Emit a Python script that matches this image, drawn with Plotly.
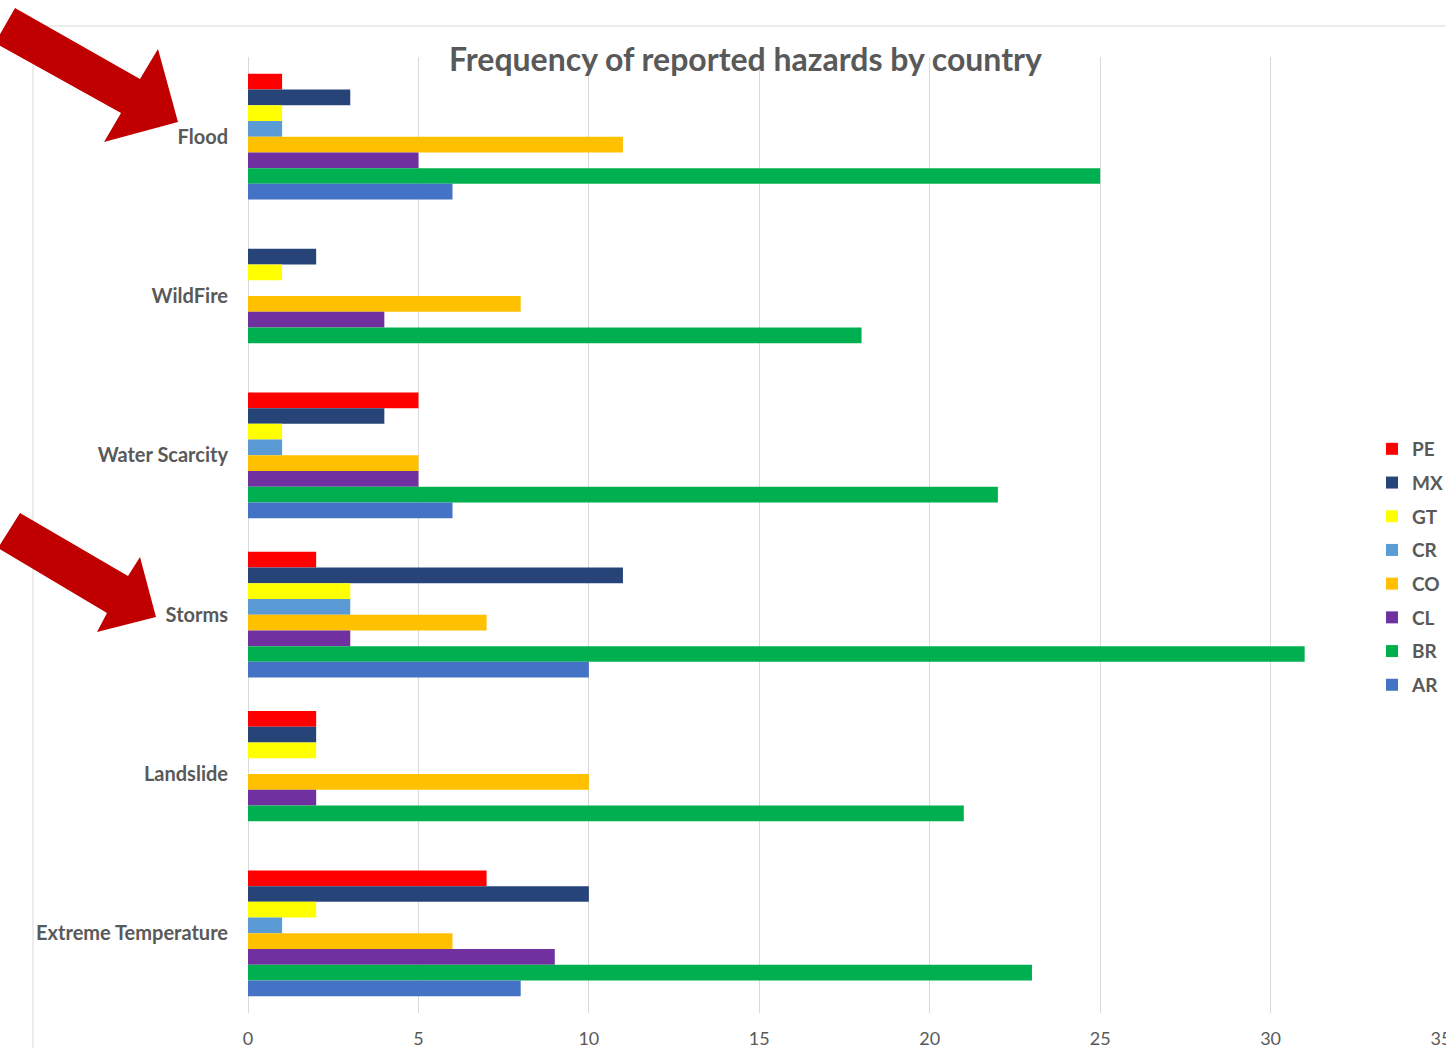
import plotly.graph_objects as go

hazards = ["Flood", "WildFire", "Water Scarcity", "Storms", "Landslide", "Extreme Temperature"]
countries = ["PE", "MX", "GT", "CR", "CO", "CL", "BR", "AR"]
PE = [1, 0, 5, 2, 2, 7]
MX = [3, 2, 4, 11, 2, 10]
GT = [1, 1, 1, 3, 2, 2]
CR = [1, 0, 1, 3, 0, 1]
CO = [11, 8, 5, 7, 10, 6]
CL = [5, 4, 5, 3, 2, 9]
BR = [25, 18, 22, 31, 21, 23]
AR = [6, 0, 6, 10, 0, 8]
series = [PE, MX, GT, CR, CO, CL, BR, AR]
colors = ["#FF0000", "#264478", "#FFFF00", "#5B9BD5", "#FFC000", "#7030A0", "#00B050", "#4472C4"]
x_ticks = [0, 5, 10, 15, 20, 25, 30, 35]

W, H = 1446, 1048
L, R, T, B = 248, 5, 57, 35
PW, PH = W - L - R, H - T - B


def px(x):
    return (x - L) / PW


def py(y):
    return 1 - (y - T) / PH


def path(points):
    s = "M " + " L ".join(f"{px(a):.5f},{py(b):.5f}" for a, b in points) + " Z"
    return s


fig = go.Figure()
for i, (name, vals) in enumerate(zip(countries, series)):
    fig.add_trace(go.Bar(
        y=hazards, x=vals, name=f"<b>{name}</b>", orientation="h",
        marker=dict(color=colors[i], line=dict(width=0)),
        legendgroup=name,
    ))

font_family = "Lato, 'Open Sans', sans-serif"
gray = "#595959"

arrow1 = [(15, 8), (140, 79), (158, 49), (178, 122), (104, 142), (121, 113), (-5, 43)]
arrow2 = [(20, 513), (128, 576), (140, 557), (156, 617), (97, 632), (107, 613), (-2, 548)]

shapes = [
    dict(type="line", xref="paper", yref="paper", x0=px(33), x1=px(33), y0=py(26), y1=py(1048),
         line=dict(color="#D9D9D9", width=1), layer="below"),
    dict(type="line", xref="paper", yref="paper", x0=px(33), x1=px(1446), y0=py(26), y1=py(26),
         line=dict(color="#D9D9D9", width=1), layer="below"),
    dict(type="path", xref="paper", yref="paper", path=path(arrow1),
         fillcolor="#C00000", line=dict(width=0)),
    dict(type="path", xref="paper", yref="paper", path=path(arrow2),
         fillcolor="#C00000", line=dict(width=0)),
]

fig.update_layout(
    width=W, height=H,
    margin=dict(l=L, r=R, t=T, b=B, autoexpand=False),
    paper_bgcolor="white", plot_bgcolor="white",
    barmode="group", bargap=0.21, bargroupgap=0,
    font=dict(family=font_family, color=gray),
    shapes=shapes,
    showlegend=True,
    legend=dict(
        x=px(1372), y=py(430), xanchor="left", yanchor="top",
        font=dict(size=19, color=gray, family=font_family),
        traceorder="grouped", tracegroupgap=6, bgcolor="rgba(0,0,0,0)",
    ),
    annotations=[dict(
        text="<b>Frequency of reported hazards by country</b>",
        xref="paper", yref="paper", x=px(745), y=py(59), xanchor="center", yanchor="middle",
        showarrow=False, font=dict(size=32, color=gray, family=font_family),
    )],
    xaxis=dict(
        range=[0, 35], tickvals=x_ticks, showgrid=True, gridcolor="#D9D9D9", gridwidth=1,
        zeroline=True, zerolinecolor="#D9D9D9", zerolinewidth=1, showline=False,
        tickfont=dict(size=18, color=gray, family=font_family), ticks="", ticklabelstandoff=13,
        ticklabeloverflow="allow",
    ),
    yaxis=dict(
        autorange=False, range=[5.5, -0.5], categoryorder="array", categoryarray=hazards,
        showgrid=False, zeroline=False, showline=False, ticks="",
        tickfont=dict(size=20, color=gray, family=font_family, weight="bold"),
        ticklabelstandoff=19,
    ),
)

fig.write_html("out.html")
